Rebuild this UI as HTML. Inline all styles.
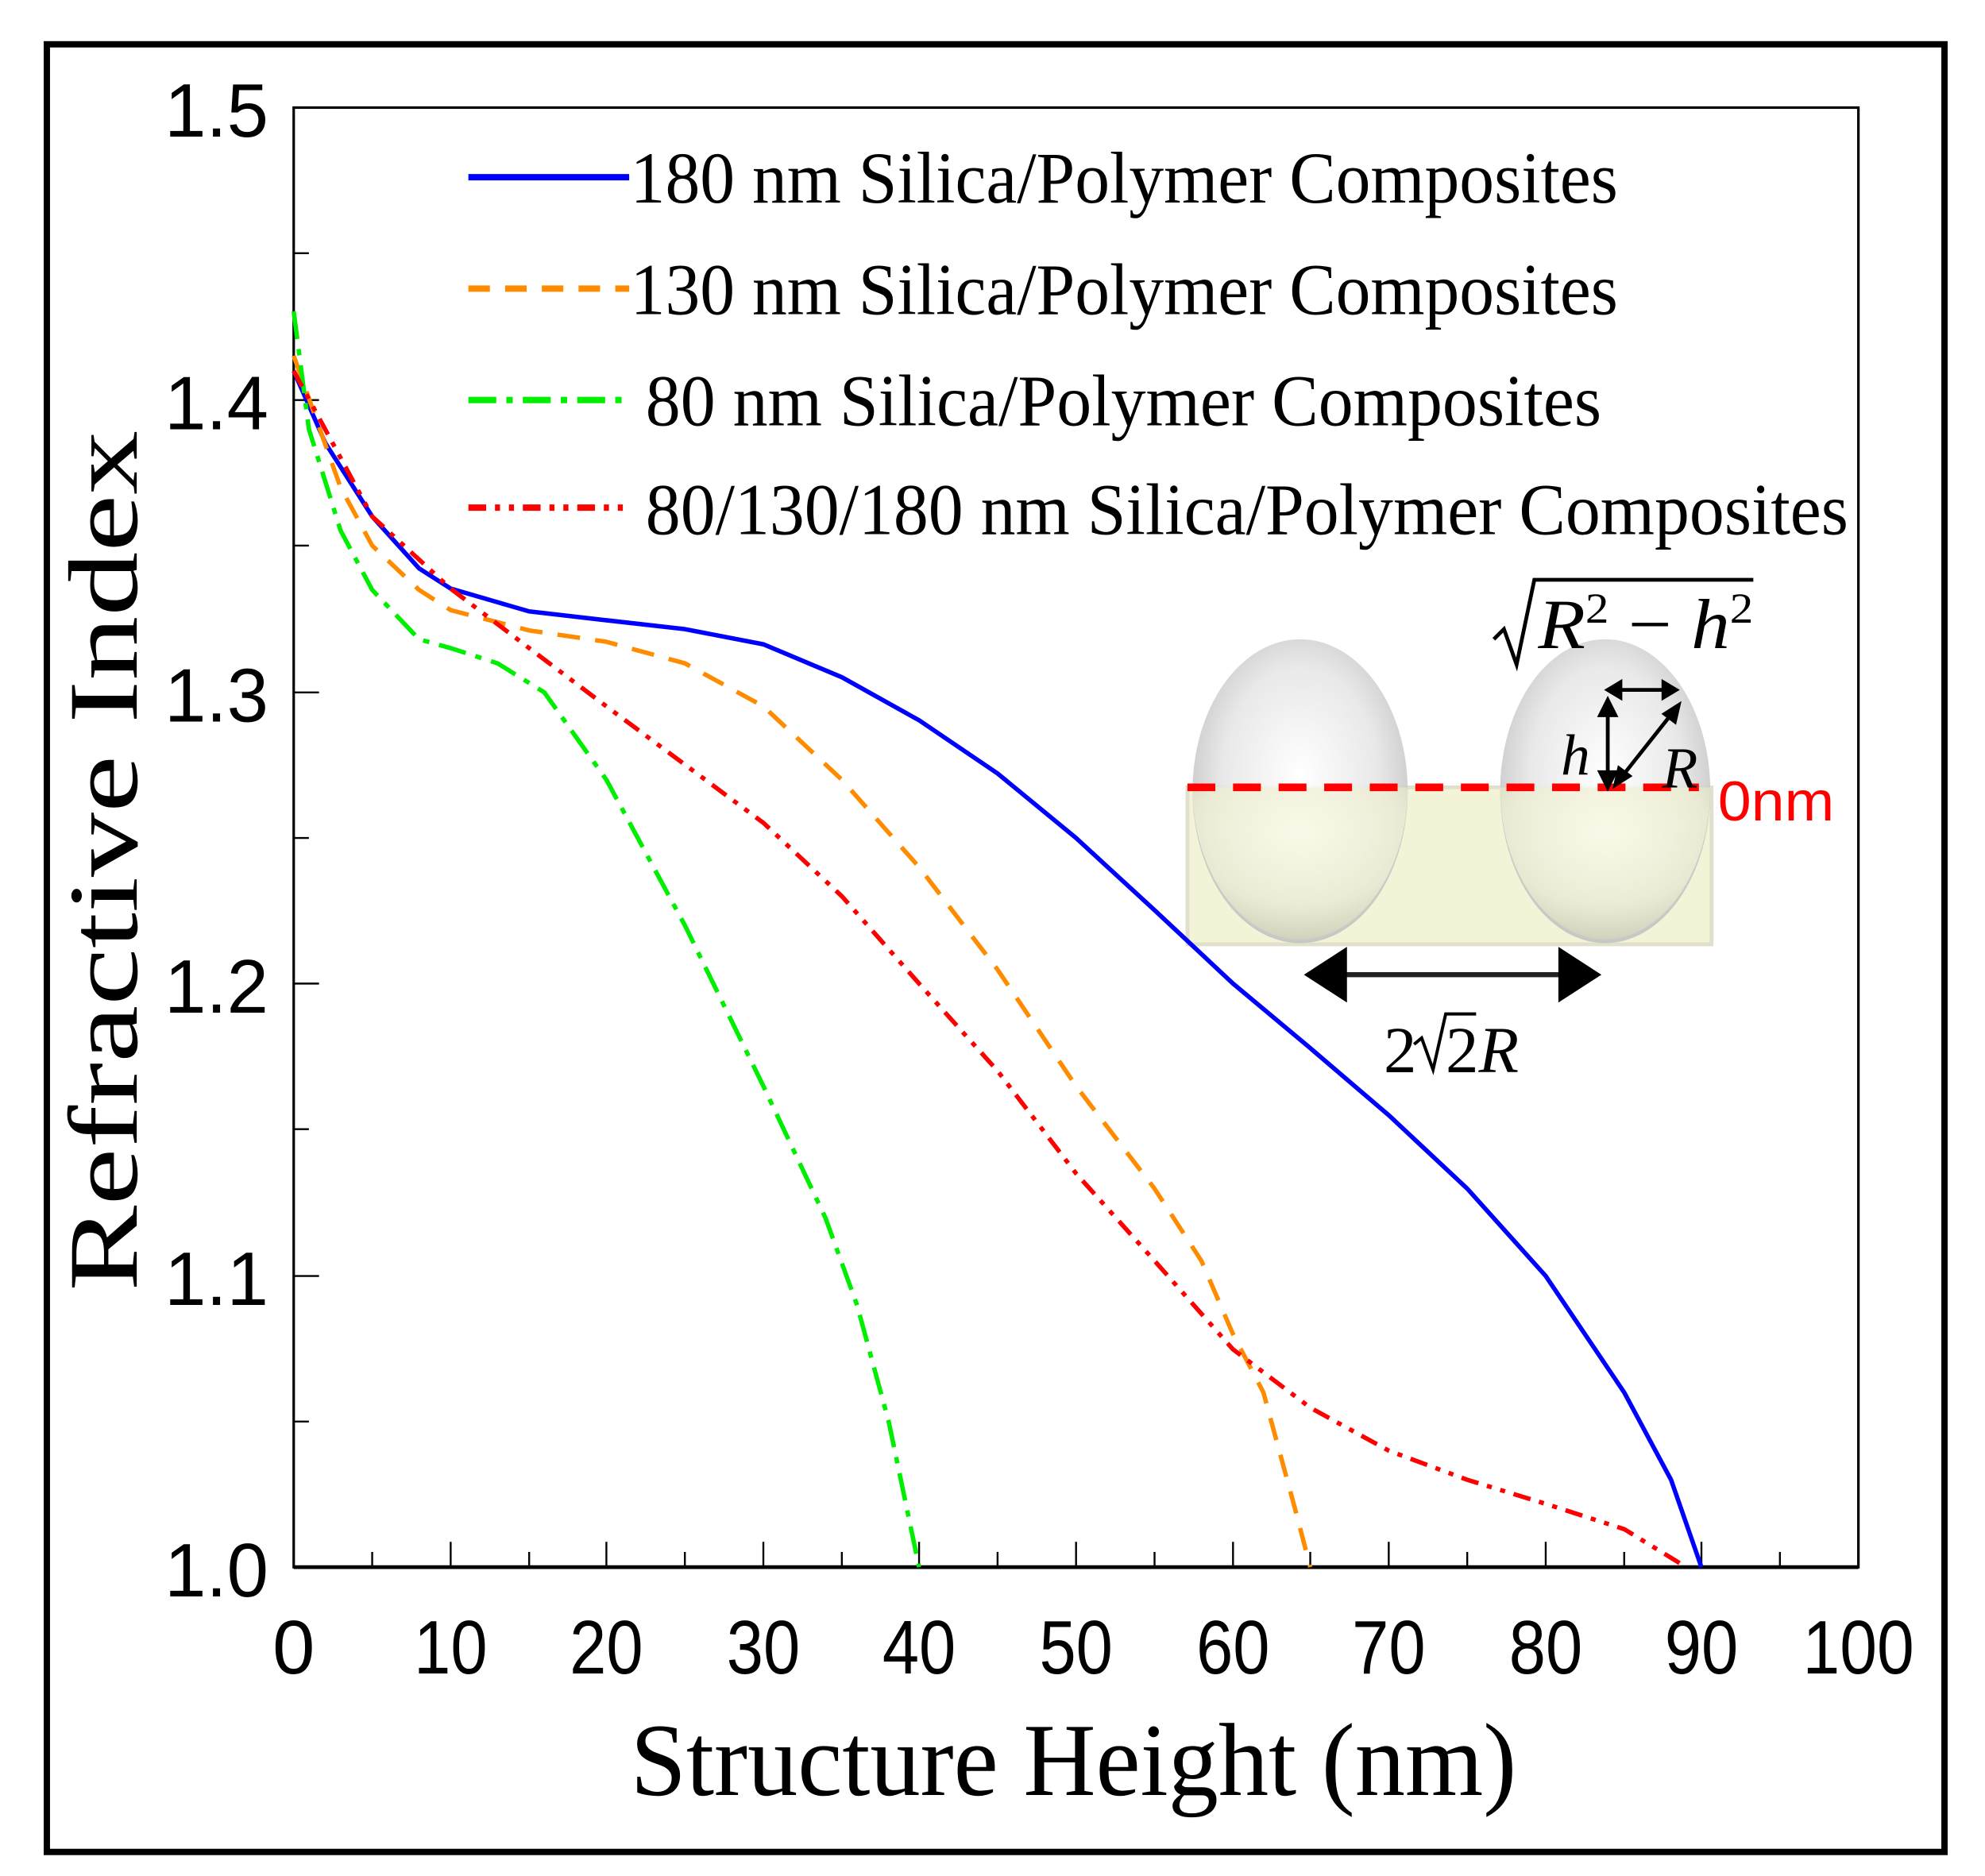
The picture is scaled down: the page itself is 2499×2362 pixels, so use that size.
<!DOCTYPE html>
<html><head><meta charset="utf-8"><style>html,body{margin:0;padding:0;background:#fff}svg{display:block}</style></head>
<body>
<svg width="2499" height="2362" viewBox="0 0 1568 1482" preserveAspectRatio="none" xmlns="http://www.w3.org/2000/svg">
<defs>
<radialGradient id="sph" cx="0.5" cy="0.45" r="0.6">
<stop offset="0" stop-color="#ffffff"/><stop offset="0.6" stop-color="#e6e6e6"/><stop offset="1" stop-color="#b8b8b8"/>
</radialGradient>
<radialGradient id="sph2" cx="0.5" cy="0.3" r="0.7">
<stop offset="0" stop-color="#fafae8"/><stop offset="0.7" stop-color="#ececd4"/><stop offset="1" stop-color="#d4d4bc"/>
</radialGradient>
</defs>
<rect x="0" y="0" width="1568" height="1482" fill="#fff"/>
<rect x="37" y="35" width="1499" height="1428" fill="none" stroke="#000" stroke-width="5"/>
<!-- plot frame -->
<rect x="232" y="85" width="1236" height="1153" fill="none" stroke="#000" stroke-width="2"/>
<line x1="232" y1="1238" x2="1468" y2="1238" stroke="#000" stroke-width="3"/>
<g stroke="#000" stroke-width="1.5">
<line x1="294" y1="1238" x2="294" y2="1226"/><line x1="356" y1="1238" x2="356" y2="1218"/>
<line x1="418" y1="1238" x2="418" y2="1226"/><line x1="479" y1="1238" x2="479" y2="1218"/>
<line x1="541" y1="1238" x2="541" y2="1226"/><line x1="603" y1="1238" x2="603" y2="1218"/>
<line x1="665" y1="1238" x2="665" y2="1226"/><line x1="726" y1="1238" x2="726" y2="1218"/>
<line x1="788" y1="1238" x2="788" y2="1226"/><line x1="850" y1="1238" x2="850" y2="1218"/>
<line x1="912" y1="1238" x2="912" y2="1226"/><line x1="974" y1="1238" x2="974" y2="1218"/>
<line x1="1035" y1="1238" x2="1035" y2="1226"/><line x1="1097" y1="1238" x2="1097" y2="1218"/>
<line x1="1159" y1="1238" x2="1159" y2="1226"/><line x1="1221" y1="1238" x2="1221" y2="1218"/>
<line x1="1283" y1="1238" x2="1283" y2="1226"/><line x1="1344" y1="1238" x2="1344" y2="1218"/>
<line x1="1406" y1="1238" x2="1406" y2="1226"/>
<line x1="232" y1="200" x2="244" y2="200"/><line x1="232" y1="316" x2="252" y2="316"/>
<line x1="232" y1="431" x2="244" y2="431"/><line x1="232" y1="547" x2="252" y2="547"/>
<line x1="232" y1="662" x2="244" y2="662"/><line x1="232" y1="777" x2="252" y2="777"/>
<line x1="232" y1="892" x2="244" y2="892"/><line x1="232" y1="1008" x2="252" y2="1008"/>
<line x1="232" y1="1123" x2="244" y2="1123"/>
</g>
<g font-family="Liberation Sans, sans-serif" font-size="60" fill="#000">
<text x="212" y="108" text-anchor="end" textLength="82" lengthAdjust="spacingAndGlyphs">1.5</text>
<text x="212" y="339" text-anchor="end" textLength="82" lengthAdjust="spacingAndGlyphs">1.4</text>
<text x="212" y="570" text-anchor="end" textLength="82" lengthAdjust="spacingAndGlyphs">1.3</text>
<text x="212" y="800" text-anchor="end" textLength="82" lengthAdjust="spacingAndGlyphs">1.2</text>
<text x="212" y="1031" text-anchor="end" textLength="82" lengthAdjust="spacingAndGlyphs">1.1</text>
<text x="212" y="1261" text-anchor="end" textLength="82" lengthAdjust="spacingAndGlyphs">1.0</text>
</g>
<g font-family="Liberation Sans, sans-serif" font-size="60" fill="#000" text-anchor="middle">
<text x="232" y="1322">0</text>
<text x="356" y="1322" textLength="58" lengthAdjust="spacingAndGlyphs">10</text>
<text x="479" y="1322" textLength="58" lengthAdjust="spacingAndGlyphs">20</text>
<text x="603" y="1322" textLength="58" lengthAdjust="spacingAndGlyphs">30</text>
<text x="726" y="1322" textLength="58" lengthAdjust="spacingAndGlyphs">40</text>
<text x="850" y="1322" textLength="58" lengthAdjust="spacingAndGlyphs">50</text>
<text x="974" y="1322" textLength="58" lengthAdjust="spacingAndGlyphs">60</text>
<text x="1097" y="1322" textLength="58" lengthAdjust="spacingAndGlyphs">70</text>
<text x="1221" y="1322" textLength="58" lengthAdjust="spacingAndGlyphs">80</text>
<text x="1344" y="1322" textLength="58" lengthAdjust="spacingAndGlyphs">90</text>
<text x="1468" y="1322" textLength="88" lengthAdjust="spacingAndGlyphs">100</text>
</g>
<text x="848" y="1418" text-anchor="middle" font-family="Liberation Serif, serif" font-size="82" textLength="700" lengthAdjust="spacingAndGlyphs">Structure Height (nm)</text>
<text transform="translate(108,680) rotate(-90)" text-anchor="middle" font-family="Liberation Serif, serif" font-size="78" textLength="680" lengthAdjust="spacingAndGlyphs">Refractive Index</text>

<!-- legend -->
<line x1="370" y1="140" x2="497" y2="140" stroke="#0000ff" stroke-width="5"/>
<line x1="370" y1="228" x2="497" y2="228" stroke="#ff8c00" stroke-width="5" stroke-dasharray="17,12"/>
<line x1="370" y1="316" x2="497" y2="316" stroke="#00ee00" stroke-width="5" stroke-dasharray="22,8,5,8"/>
<line x1="370" y1="401" x2="497" y2="401" stroke="#ff0000" stroke-width="5" stroke-dasharray="14,7,4,7,4,7"/>
<g font-family="Liberation Serif, serif" font-size="58" fill="#000">
<text x="498" y="160" textLength="780" lengthAdjust="spacingAndGlyphs">180 nm Silica/Polymer Composites</text>
<text x="498" y="248" textLength="780" lengthAdjust="spacingAndGlyphs">130 nm Silica/Polymer Composites</text>
<text x="510" y="336" textLength="755" lengthAdjust="spacingAndGlyphs">80 nm Silica/Polymer Composites</text>
<text x="510" y="422" textLength="950" lengthAdjust="spacingAndGlyphs">80/130/180 nm Silica/Polymer Composites</text>
</g>

<!-- inset -->
<rect x="938" y="622" width="414" height="124" fill="#f3f3d8" stroke="#e0e0cc" stroke-width="3"/>
<ellipse cx="1027" cy="625" rx="85" ry="120" fill="url(#sph)" opacity="0.9"/>
<ellipse cx="1268" cy="625" rx="83" ry="120" fill="url(#sph)" opacity="0.9"/>
<path d="M942 622 h170 a85 120 0 0 1 -170 0z" fill="url(#sph2)" opacity="0.9"/>
<path d="M1185 622 h166 a83 120 0 0 1 -166 0z" fill="url(#sph2)" opacity="0.9"/>
<line x1="938" y1="622" x2="1342" y2="622" stroke="#ff0000" stroke-width="6" stroke-dasharray="22,14"/>
<text x="1357" y="648" font-family="Liberation Sans, sans-serif" font-size="44" fill="#ff0000" textLength="92" lengthAdjust="spacingAndGlyphs">0nm</text>
<g stroke="#000" stroke-width="3" fill="#000">
<line x1="1270" y1="560" x2="1270" y2="615"/>
<path d="M1264 565 l6 -12 l6 12z M1264 610 l6 12 l6 -12z"/>
<line x1="1276" y1="545" x2="1318" y2="545"/>
<path d="M1280 539 l-10 6 l10 6z M1314 539 l10 6 l-10 6z"/>
<line x1="1280" y1="615" x2="1322" y2="562"/>
<path d="M1276 620 l3 -13 l8 6z M1326 557 l-3 13 l-8 -6z"/>
</g>
<text x="1233" y="612" font-family="Liberation Serif, serif" font-style="italic" font-size="46">h</text>
<text x="1313" y="622" font-family="Liberation Serif, serif" font-style="italic" font-size="46">R</text>
<path d="M1180 505 l8 -8 l10 28 l14 -67 h173" fill="none" stroke="#000" stroke-width="3"/>
<text x="1215" y="512" font-family="Liberation Serif, serif" font-size="56" textLength="170" lengthAdjust="spacingAndGlyphs"><tspan font-style="italic">R</tspan><tspan font-size="34" dy="-20">2</tspan><tspan dy="20"> − </tspan><tspan font-style="italic">h</tspan><tspan font-size="34" dy="-20">2</tspan></text>
<line x1="1060" y1="770" x2="1235" y2="770" stroke="#222" stroke-width="4"/>
<path d="M1030 770 l34 -22 v44z M1265 770 l-34 -22 v44z" fill="#000"/>
<text x="1093" y="847" font-family="Liberation Serif, serif" font-size="52">2</text>
<path d="M1117 825 l6 -5 l9 25 l10 -44 h24" fill="none" stroke="#000" stroke-width="2.5"/>
<text x="1142" y="847" font-family="Liberation Serif, serif" font-size="52">2<tspan font-style="italic">R</tspan></text>

<!-- curves: x=232+12.36*v, y=85+2306*(1.5-n) -->
<polyline fill="none" stroke="#0000ff" stroke-width="3.5" points="232,293 257,350 294,408 331,449 356,465 418,483 479,490 541,497 603,509 665,535 726,569 788,611 850,662 912,719 974,777 1035,828 1097,881 1159,939 1221,1008 1283,1100 1320,1169 1344,1238"/>
<polyline fill="none" stroke="#ff8c00" stroke-width="3.5" stroke-dasharray="18,12" points="232,281 269,385 294,431 331,466 356,482 418,498 479,507 541,524 603,558 665,616 726,685 788,766 850,858 912,939 949,996 974,1054 998,1100 1023,1192 1035,1238"/>
<polyline fill="none" stroke="#00ee00" stroke-width="3.5" stroke-dasharray="22,8,5,8" points="232,246 244,339 269,419 294,466 331,505 356,512 393,524 430,547 479,616 541,731 603,858 652,962 677,1031 702,1123 726,1238"/>
<polyline fill="none" stroke="#ff0000" stroke-width="3.5" stroke-dasharray="14,7,4,7,4,7" points="232,293 294,408 356,465 418,512 479,558 541,604 603,650 665,708 726,777 788,846 850,927 912,996 974,1066 1035,1112 1097,1146 1159,1169 1221,1188 1283,1208 1332,1238"/>
</svg>
</body></html>
